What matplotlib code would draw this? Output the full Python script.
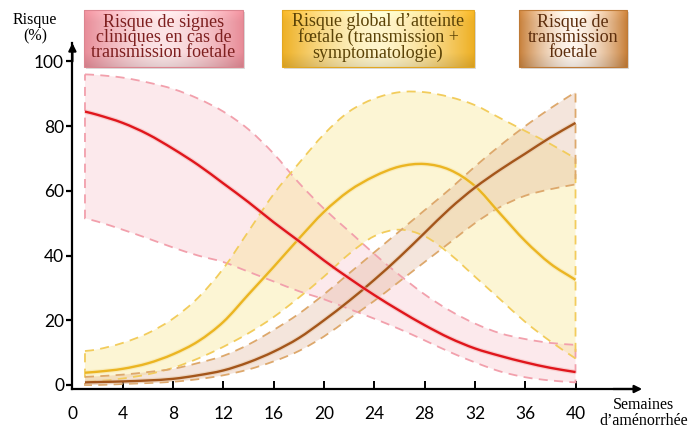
import numpy as np
import matplotlib
matplotlib.use("Agg")
import matplotlib.pyplot as plt
import matplotlib.patheffects as pe
from matplotlib.patches import Rectangle, PathPatch
from matplotlib.path import Path

# ---------------- data ----------------
weeks = [1, 2, 4, 6, 8, 10, 12, 14, 16, 18, 20, 22, 24, 26, 28, 30, 32, 34, 36, 38, 40]

red_mid = [84.5, 83.5, 81, 77.5, 73, 68, 62.3, 56.5, 50.3, 44.5, 38.5, 33, 27.8, 23, 18.5, 14.5, 11.3, 9, 7, 5.3, 4]
red_up = [96, 95.8, 95, 93.5, 91.5, 88.5, 84.5, 79, 71.5, 62.5, 54.5, 47.5, 40.5, 34, 28, 23, 19, 16, 14.2, 13, 12.4]
red_lo = [51.5, 50.5, 48, 45.3, 42.5, 40, 38, 35, 32, 29, 26.5, 23.5, 20.5, 17.3, 13.8, 10.2, 7, 4.2, 2.4, 1.4, 0.8]

yel_mid = [3.8, 4.1, 5, 6.7, 9.5, 13.5, 19.5, 28, 36.5, 45.2, 53.5, 60, 64.5, 67.5, 68.3, 66.5, 61.5, 53, 44.5, 37.5, 32.5]
yel_up = [10.5, 11, 13, 16, 20.5, 27, 36, 47.5, 59, 68.5, 77.5, 84.5, 88.5, 90.5, 90.5, 89, 86.5, 82.5, 78.5, 74.5, 70]
yel_lo = [1, 1.2, 2, 3.3, 5.3, 8.2, 11.8, 16, 21, 27, 33.5, 40.5, 46, 48, 46, 40.5, 33.5, 26.5, 19.5, 13.5, 8.2]

bro_mid = [0.8, 0.9, 1.1, 1.4, 1.9, 3, 4.5, 7, 10.3, 14.5, 20, 26, 32.5, 39.5, 47, 54.5, 61, 66.5, 71.5, 76.5, 81]
bro_up = [2.5, 2.7, 3.2, 4, 5, 6.8, 9, 12.5, 17, 22, 28, 34.5, 41, 47.5, 54, 60.5, 67.5, 74, 80, 85.5, 90.5]
bro_lo = [0, 0, 0.3, 0.6, 1, 1.8, 3, 4.8, 7.3, 10.5, 15, 20.5, 26, 32, 38, 44, 50, 55, 58.5, 60.5, 62]

xticks = [0, 4, 8, 12, 16, 20, 24, 28, 32, 36, 40]
yticks = [0, 20, 40, 60, 80, 100]

box_texts = ["Risque de signes\ncliniques en cas de\ntransmission foetale",
             "Risque global d\u2019atteinte\nf\u0153tale (transmission +\nsymptomatologie)",
             "Risque de\ntransmission\nfoetale"]

# ---------------- helpers: smooth Bezier path through the read points ----------------
def smooth_segments(x, y):
    x = np.asarray(x, float)
    y = np.asarray(y, float)
    n = len(x)
    m = np.zeros(n)
    m[0] = (y[1] - y[0]) / (x[1] - x[0])
    m[-1] = (y[-1] - y[-2]) / (x[-1] - x[-2])
    for i in range(1, n - 1):
        m[i] = (y[i + 1] - y[i - 1]) / (x[i + 1] - x[i - 1])
    verts, codes = [], []
    for i in range(n - 1):
        dx = x[i + 1] - x[i]
        verts += [(x[i] + dx / 3, y[i] + m[i] * dx / 3),
                  (x[i + 1] - dx / 3, y[i + 1] - m[i + 1] * dx / 3),
                  (x[i + 1], y[i + 1])]
        codes += [Path.CURVE4] * 3
    return verts, codes

def curve_path(x, y):
    v, c = smooth_segments(x, y)
    return Path([(x[0], y[0])] + v, [Path.MOVETO] + c)

def band_path(x, up, lo):
    v1, c1 = smooth_segments(x, up)
    v2, c2 = smooth_segments(x[::-1], lo[::-1])
    verts = [(x[0], up[0])] + v1 + [(x[-1], lo[-1])] + v2 + [(x[0], up[0])]
    codes = [Path.MOVETO] + c1 + [Path.LINETO] + c2 + [Path.LINETO]
    return Path(verts, codes)

# ---------------- figure ----------------
W, H = 700, 436
fig = plt.figure(figsize=(W / 100, H / 100), dpi=100)
fig.patch.set_facecolor("white")

ax = fig.add_axes([72.4 / W, (H - 389) / H, (638.4 - 72.4) / W, (389 - 43) / H])
ax.set_xlim(0, 45)
ax.set_ylim(-1.24, 105.7)
ax.set_facecolor("none")

w = list(map(float, weeks))

def band(up, lo, fc, alpha, ec):
    p = band_path(w, list(up), list(lo))
    ax.add_patch(PathPatch(p, facecolor=fc, alpha=alpha, edgecolor="none", zorder=1))
    ax.add_patch(PathPatch(p, facecolor="none", edgecolor=ec, linestyle=(0, (5, 3.5)),
                           linewidth=1.3, zorder=2))

band(red_up, red_lo, "#f8b9c3", 0.30, "#f2a0ac")
band(yel_up, yel_lo, "#f8e27a", 0.32, "#f2cc5c")
band(bro_up, bro_lo, "#d9a583", 0.28, "#dda86c")

def mainline(y, c, halo):
    ax.add_patch(PathPatch(curve_path(w, list(y)), facecolor="none", edgecolor=c, lw=1.7,
                           zorder=4, capstyle="butt",
                           path_effects=[pe.Stroke(linewidth=3.4, foreground=halo, alpha=0.5),
                                         pe.Normal()]))

mainline(yel_mid, "#ebb522", "#f7e3a0")
mainline(bro_mid, "#a4561b", "#e6c6a6")
mainline(red_mid, "#e0161c", "#f5b0b0")

# axes styling
for s in ["top", "right"]:
    ax.spines[s].set_visible(False)
ax.spines["left"].set_linewidth(1.6)
ax.spines["bottom"].set_linewidth(1.6)
ax.spines["left"].set_position(("data", 0))
ax.spines["bottom"].set_position(("data", -1.24))

ax.annotate("", xy=(0, 105.7), xytext=(0, 100), xycoords="data",
            arrowprops=dict(arrowstyle="-|>", color="black", lw=1.6, mutation_scale=11,
                            shrinkA=0, shrinkB=0), annotation_clip=False)
ax.annotate("", xy=(45.3, -1.24), xytext=(43, -1.24), xycoords="data",
            arrowprops=dict(arrowstyle="-|>", color="black", lw=1.6, mutation_scale=11,
                            shrinkA=0, shrinkB=0), annotation_clip=False)

tickfont = "Lato"
ax.set_xticks(xticks)
ax.set_xticklabels([str(t) for t in xticks], fontsize=12.5, family=tickfont)
ax.set_yticks(yticks)
ax.set_yticklabels([str(t) for t in yticks], fontsize=12.5, family=tickfont)
ax.tick_params(axis="x", direction="in", length=6, width=1.4, pad=12)
ax.tick_params(axis="y", direction="out", length=4, width=1.6, pad=2)

# ---------------- overlay for texts and boxes ----------------
ov = fig.add_axes([0, 0, 1, 1])
ov.set_xlim(0, W)
ov.set_ylim(H, 0)
ov.axis("off")
ov.set_zorder(5)

serif = "Liberation Serif"
ov.text(35, 28, "Risque\n(%)", ha="center", va="center", family=serif, fontsize=11.5,
        linespacing=1.0)
ov.text(644, 413, "Semaines\nd\u2019am\u00e9norrh\u00e9e", ha="center", va="center", family=serif,
        fontsize=11.5, linespacing=0.95)

def grad_box(x0, x1, y0, y1, edge, center, tc, text, fs):
    edge = np.array(edge) / 255.0
    center = np.array(center) / 255.0
    t = np.linspace(0, 1, 200)
    f = 1 - np.abs(2 * t - 1) ** 1.6
    row = edge[None, :] * (1 - f[:, None]) + center[None, :] * f[:, None]
    tv = np.linspace(0, 1, 60)
    shade = 1 - 0.10 * np.clip((tv - 0.75) / 0.25, 0, 1) + 0.06 * np.clip((0.2 - tv) / 0.2, 0, 1)
    img = np.clip(row[None, :, :] * shade[:, None, None], 0, 1)
    ov.add_patch(Rectangle((x0 + 2, y0 + 2), x1 - x0, y1 - y0, facecolor="#999999",
                           alpha=0.35, edgecolor="none", zorder=1))
    ov.imshow(img, extent=(x0, x1, y1, y0), aspect="auto", zorder=2, interpolation="bilinear")
    ov.add_patch(Rectangle((x0, y0), x1 - x0, y1 - y0, facecolor="none",
                           edgecolor=tuple(edge * 0.95), lw=0.8, zorder=3))
    ov.text((x0 + x1) / 2, (y0 + y1) / 2 - 1, text, ha="center", va="center", family=serif,
            fontsize=fs, color=tc, linespacing=0.86, zorder=4)

grad_box(84, 243, 10, 67, (232, 140, 152), (252, 228, 230), "#7d1f1f", box_texts[0], 13)
grad_box(282, 474, 10, 67, (238, 176, 36), (255, 246, 205), "#5a4206", box_texts[1], 13)
grad_box(519, 627, 10, 67, (200, 128, 58), (255, 246, 238), "#5c2d0c", box_texts[2], 13)

ov.set_xlim(0, W)
ov.set_ylim(H, 0)

fig.savefig("out.png", dpi=100, facecolor="white")
